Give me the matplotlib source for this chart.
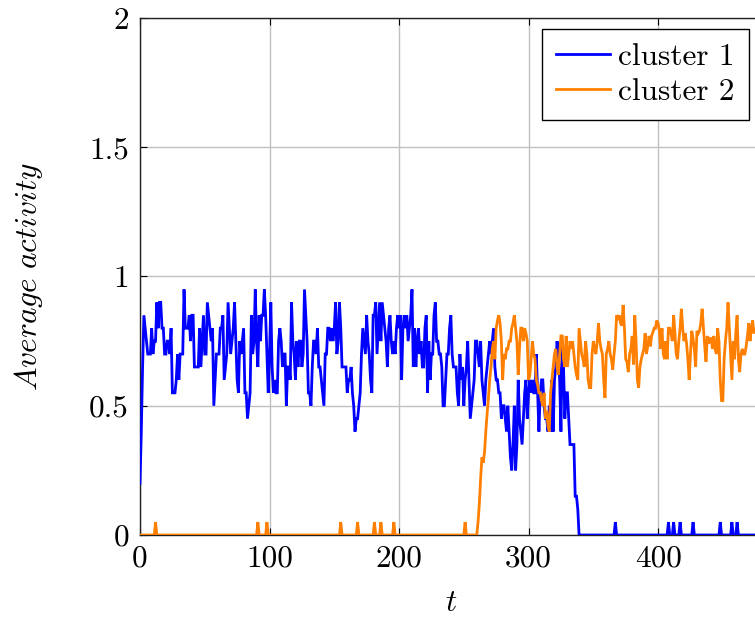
import numpy as np
import matplotlib
matplotlib.use("Agg")
import matplotlib.pyplot as plt

# ---- data ----
cluster1 = [
    0.2, 0.4, 0.65, 0.85, 0.8, 0.75, 0.7, 0.7, 0.7, 0.8,
    0.7, 0.75, 0.75, 0.9, 0.8, 0.9, 0.9, 0.8, 0.8, 0.7,
    0.7, 0.75, 0.75, 0.7, 0.8, 0.55, 0.55, 0.55, 0.6, 0.7,
    0.6, 0.7, 0.7, 0.7, 0.95, 0.8, 0.8, 0.8, 0.85, 0.75,
    0.85, 0.85, 0.65, 0.65, 0.65, 0.65, 0.8, 0.65, 0.75, 0.85,
    0.7, 0.7, 0.9, 0.85, 0.8, 0.75, 0.8, 0.5, 0.6, 0.7,
    0.7, 0.7, 0.8, 0.8, 0.85, 0.6, 0.65, 0.7, 0.9, 0.8,
    0.7, 0.75, 0.8, 0.9, 0.75, 0.6, 0.55, 0.75, 0.7, 0.75,
    0.8, 0.55, 0.55, 0.45, 0.5, 0.55, 0.85, 0.7, 0.75, 0.95,
    0.75, 0.65, 0.85, 0.75, 0.85, 0.85, 0.95, 0.85, 0.7, 0.55,
    0.7, 0.9, 0.65, 0.55, 0.6, 0.55, 0.55, 0.75, 0.8, 0.75,
    0.65, 0.7, 0.7, 0.5, 0.65, 0.65, 0.6, 0.9, 0.75, 0.7,
    0.6, 0.75, 0.65, 0.75, 0.75, 0.65, 0.7, 0.95, 0.85, 0.75,
    0.55, 0.55, 0.5, 0.65, 0.75, 0.75, 0.7, 0.8, 0.65, 0.65,
    0.6, 0.55, 0.5, 0.7, 0.7, 0.8, 0.8, 0.75, 0.8, 0.75,
    0.8, 0.9, 0.7, 0.75, 0.9, 0.8, 0.65, 0.65, 0.65, 0.65,
    0.55, 0.6, 0.6, 0.65, 0.55, 0.5, 0.4, 0.45, 0.45, 0.5,
    0.55, 0.7, 0.8, 0.75, 0.7, 0.85, 0.75, 0.7, 0.6, 0.55,
    0.85, 0.85, 0.9, 0.7, 0.8, 0.9, 0.75, 0.9, 0.85, 0.8,
    0.75, 0.65, 0.8, 0.85, 0.75, 0.7, 0.75, 0.7, 0.8, 0.85,
    0.8, 0.85, 0.6, 0.8, 0.85, 0.8, 0.85, 0.75, 0.8, 0.85,
    0.95, 0.65, 0.8, 0.65, 0.75, 0.8, 0.7, 0.75, 0.65, 0.65,
    0.8, 0.85, 0.55, 0.75, 0.6, 0.7, 0.7, 0.85, 0.9, 0.75,
    0.75, 0.7, 0.7, 0.65, 0.5, 0.5, 0.6, 0.7, 0.7, 0.8,
    0.85, 0.7, 0.65, 0.65, 0.65, 0.55, 0.5, 0.7, 0.6, 0.65,
    0.5, 0.6, 0.65, 0.75, 0.6, 0.45, 0.5, 0.55, 0.6, 0.75,
    0.75, 0.7, 0.65, 0.75, 0.6, 0.55, 0.5, 0.6, 0.65, 0.7,
    0.75, 0.7, 0.75, 0.8, 0.65, 0.6, 0.6, 0.55, 0.55, 0.45,
    0.5, 0.5, 0.45, 0.4, 0.5, 0.4, 0.3, 0.25, 0.35, 0.5,
    0.25, 0.35, 0.6, 0.45, 0.4, 0.35, 0.45, 0.55, 0.6, 0.45,
    0.55, 0.6, 0.55, 0.6, 0.55, 0.55, 0.7, 0.55, 0.4, 0.55,
    0.6, 0.6, 0.5, 0.45, 0.45, 0.4, 0.5, 0.4, 0.6, 0.4,
    0.6, 0.65, 0.75, 0.7, 0.6, 0.4, 0.75, 0.65, 0.45, 0.55,
    0.55, 0.45, 0.35, 0.35, 0.35, 0.35, 0.15, 0.15, 0.1, 0.0,
    0, 0, 0, 0, 0, 0, 0, 0, 0, 0, 0, 0, 0, 0, 0, 0, 0, 0, 0, 0,
    0, 0, 0, 0, 0, 0, 0, 0.05, 0, 0, 0, 0, 0, 0, 0, 0, 0, 0, 0, 0,
    0, 0, 0, 0, 0, 0, 0, 0, 0, 0, 0, 0, 0, 0, 0, 0, 0, 0, 0, 0,
    0, 0, 0, 0, 0, 0, 0, 0, 0.05, 0, 0, 0, 0.05, 0, 0, 0, 0, 0.05, 0, 0,
    0, 0, 0, 0, 0, 0, 0, 0.05, 0, 0, 0, 0, 0, 0, 0, 0, 0, 0, 0, 0,
    0, 0, 0, 0, 0, 0, 0, 0, 0.05, 0, 0, 0, 0, 0, 0, 0, 0, 0.05, 0, 0,
    0, 0.05, 0, 0, 0, 0, 0, 0, 0, 0, 0, 0, 0, 0, 0, 0, 0,
]

cluster2 = [
    0, 0, 0, 0, 0, 0, 0, 0, 0, 0, 0, 0, 0.05, 0, 0, 0, 0, 0, 0, 0,
    0, 0, 0, 0, 0, 0, 0, 0, 0, 0, 0, 0, 0, 0, 0, 0, 0, 0, 0, 0,
    0, 0, 0, 0, 0, 0, 0, 0, 0, 0, 0, 0, 0, 0, 0, 0, 0, 0, 0, 0,
    0, 0, 0, 0, 0, 0, 0, 0, 0, 0, 0, 0, 0, 0, 0, 0, 0, 0, 0, 0,
    0, 0, 0, 0, 0, 0, 0, 0, 0, 0, 0, 0.05, 0, 0, 0, 0, 0, 0, 0.05, 0,
    0, 0, 0, 0, 0, 0, 0, 0, 0, 0, 0, 0, 0, 0, 0, 0, 0, 0, 0, 0,
    0, 0, 0, 0, 0, 0, 0, 0, 0, 0, 0, 0, 0, 0, 0, 0, 0, 0, 0, 0,
    0, 0, 0, 0, 0, 0, 0, 0, 0, 0, 0, 0, 0, 0, 0, 0.05, 0, 0, 0, 0,
    0, 0, 0, 0, 0, 0, 0, 0, 0.05, 0, 0, 0, 0, 0, 0, 0, 0, 0, 0, 0,
    0, 0.05, 0, 0, 0, 0, 0.05, 0, 0, 0, 0, 0, 0, 0, 0, 0, 0.05, 0, 0, 0,
    0, 0, 0, 0, 0, 0, 0, 0, 0, 0, 0, 0, 0, 0, 0, 0, 0, 0, 0, 0,
    0, 0, 0, 0, 0, 0, 0, 0, 0, 0, 0, 0, 0, 0, 0, 0, 0, 0, 0, 0,
    0, 0, 0, 0, 0, 0, 0, 0, 0, 0, 0, 0.05, 0, 0, 0, 0, 0, 0, 0, 0,
    0, 0.05, 0.12, 0.22, 0.3, 0.28, 0.32, 0.4, 0.47, 0.53,
    0.6, 0.65, 0.72, 0.75, 0.68, 0.8, 0.83, 0.85, 0.82, 0.75,
    0.6, 0.7, 0.68, 0.72, 0.72, 0.75, 0.75, 0.8, 0.82, 0.85,
    0.8, 0.75, 0.62, 0.72, 0.8, 0.8, 0.75, 0.8, 0.78, 0.75,
    0.6, 0.62, 0.68, 0.75, 0.7, 0.68, 0.6, 0.58, 0.55, 0.55,
    0.52, 0.5, 0.55, 0.45, 0.48, 0.42, 0.4, 0.55, 0.6, 0.65,
    0.7, 0.72, 0.65, 0.62, 0.7, 0.77, 0.77, 0.68, 0.65, 0.77,
    0.65, 0.7, 0.75, 0.72, 0.75, 0.7, 0.65, 0.62, 0.6, 0.8,
    0.75, 0.7, 0.68, 0.65, 0.75, 0.7, 0.6, 0.57, 0.57, 0.7,
    0.75, 0.72, 0.7, 0.75, 0.82, 0.75, 0.72, 0.7, 0.6, 0.53,
    0.7, 0.72, 0.75, 0.7, 0.68, 0.64, 0.7, 0.75, 0.85, 0.84,
    0.85, 0.82, 0.81, 0.89, 0.8, 0.68, 0.67, 0.63, 0.7, 0.72,
    0.77, 0.66, 0.85, 0.75, 0.6, 0.57, 0.65, 0.68, 0.7, 0.72,
    0.78, 0.7, 0.73, 0.77, 0.73, 0.77, 0.785, 0.8, 0.8, 0.83,
    0.82, 0.79, 0.72, 0.8, 0.7, 0.68, 0.75, 0.68, 0.8, 0.8,
    0.78, 0.75, 0.85, 0.78, 0.7, 0.68, 0.75, 0.8, 0.875, 0.8,
    0.75, 0.78, 0.74, 0.68, 0.6, 0.7, 0.79, 0.76, 0.72, 0.65,
    0.79, 0.78, 0.79, 0.82, 0.875, 0.8, 0.73, 0.67, 0.77, 0.74,
    0.76, 0.76, 0.72, 0.77, 0.72, 0.7, 0.8, 0.75, 0.6, 0.52,
    0.52, 0.68, 0.75, 0.8, 0.9, 0.8, 0.7, 0.6, 0.75, 0.68,
    0.78, 0.85, 0.68, 0.63, 0.7, 0.72, 0.7, 0.7, 0.73, 0.77,
    0.82, 0.75, 0.8, 0.83, 0.78, 0.8, 0.78,
]

series_labels = ["cluster 1", "cluster 2"]
series_colors = ["#0000ff", "#ff8000"]
x_ticks = [0, 100, 200, 300, 400]
x_tick_labels = ["0", "100", "200", "300", "400"]
y_ticks = [0, 0.5, 1, 1.5, 2]
y_tick_labels = ["0", "0.5", "1", "1.5", "2"]
x_range = [0, 480]
y_range = [0, 2]

# ---- style ----
plt.rcParams['font.family'] = 'cmr10'
plt.rcParams['mathtext.fontset'] = 'cm'
plt.rcParams['axes.formatter.use_mathtext'] = True
FS = 22.5

fig = plt.figure(figsize=(7.55, 6.17), dpi=100)
ax = fig.add_axes([140 / 755, 82 / 617, 621.7 / 755, 517 / 617])

t1 = np.arange(len(cluster1))
t2 = np.arange(len(cluster2))
ax.plot(t1, cluster1, color=series_colors[0], lw=2.0, label=series_labels[0],
        solid_joinstyle='miter', zorder=3)
ax.plot(t2, cluster2, color=series_colors[1], lw=2.0, label=series_labels[1],
        solid_joinstyle='miter', zorder=4)

ax.set_xlim(*x_range)
ax.set_ylim(*y_range)
ax.set_xticks(x_ticks)
ax.set_xticklabels(x_tick_labels)
ax.set_yticks(y_ticks)
ax.set_yticklabels(y_tick_labels)
ax.tick_params(direction='in', length=5, width=0.8, top=True, right=True,
               labelsize=FS, colors='black')
ax.tick_params(axis='y', pad=8)
ax.tick_params(axis='x', pad=7)
ax.grid(True, color='#c0c0c0', lw=1.0, zorder=0)
ax.set_axisbelow(True)
for s in ax.spines.values():
    s.set_linewidth(1.0)
    s.set_color('#222222')

ax.set_xlabel(r'$t$', fontsize=FS, va='center')
ax.xaxis.set_label_coords(0.5, -0.131)
ax.set_ylabel(r'$Average\ activity$', fontsize=FS, va='center')
ax.yaxis.set_label_coords(-0.18, 0.5)

leg = ax.legend(loc='upper right', bbox_to_anchor=(0.979, 0.978), borderaxespad=0,
                frameon=True, fancybox=False, edgecolor='black', framealpha=1,
                fontsize=FS, handlelength=1.75, handletextpad=0.25,
                labelspacing=0.2, borderpad=0.45)
leg.get_frame().set_linewidth(1.0)

fig.savefig('out.png', dpi=100)
